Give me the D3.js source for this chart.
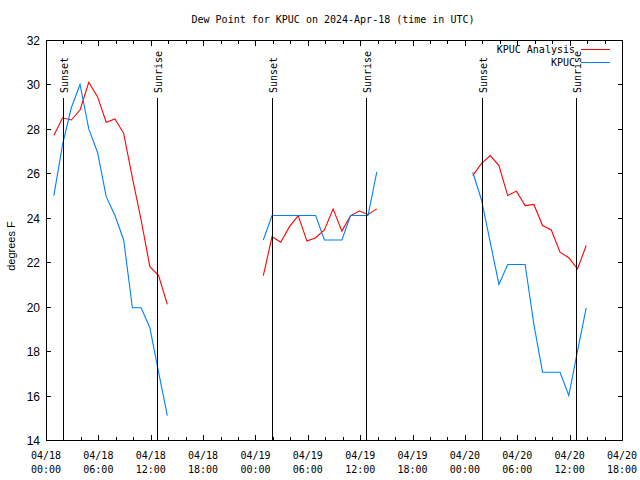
<!DOCTYPE html>
<html>
<head>
<meta charset="utf-8">
<script src="https://cdn.jsdelivr.net/npm/d3@7"></script>
<style>
  html, body { margin: 0; padding: 0; background: #fff; }
  svg { display: block; }
  text { font-family: "DejaVu Sans Mono", "Liberation Mono", monospace; fill: #000; }
</style>
</head>
<body>
<svg id="chart" width="640" height="480"></svg>
<script>
// ---- data (hours after 2024-04-18 00:00 UTC; observations at hh:54) ----
const obsHours = [0.9, 1.9, 2.9, 3.9, 4.9, 5.9, 6.9, 7.9, 8.9, 9.9, 10.9, 11.9, 12.9, 13.9,
                  24.9, 25.9, 26.9, 27.9, 28.9, 29.9, 30.9, 31.9, 32.9, 33.9, 34.9, 35.9, 36.9, 37.9,
                  48.9, 49.9, 50.9, 51.9, 52.9, 53.9, 54.9, 55.9, 56.9, 57.9, 58.9, 59.9, 60.9, 61.9];
const analysisValues = [27.7, 28.5, 28.4, 28.85, 30.1, 29.45, 28.3, 28.45, 27.8, 25.8, 23.9, 21.8, 21.4, 20.1,
                        21.4, 23.15, 22.9, 23.6, 24.1, 22.95, 23.1, 23.45, 24.4, 23.4, 24.1, 24.3, 24.15, 24.4,
                        25.9, 26.45, 26.8, 26.35, 25.0, 25.2, 24.55, 24.6, 23.65, 23.45, 22.45, 22.2, 21.7, 22.75];
const obsValues = [25.0, 27.3, 28.95, 30.0, 28.0, 26.95, 24.95, 24.1, 23.0, 19.95, 19.95, 19.05, 17.05, 15.1,
                   23.0, 24.1, 24.1, 24.1, 24.1, 24.1, 24.1, 23.0, 23.0, 23.0, 24.1, 24.1, 24.1, 26.05,
                   26.05, 24.8, 22.9, 21.0, 21.9, 21.9, 21.9, 19.2, 17.05, 17.05, 17.05, 16.0, 18.0, 19.95];
const sunLabels = ["Sunset", "Sunrise", "Sunset", "Sunrise", "Sunset", "Sunrise"];
const sunHours = [2.02, 12.8, 25.97, 36.75, 50.03, 60.73];
const yTickValues = [14, 16, 18, 20, 22, 24, 26, 28, 30, 32];
const seriesNames = ["KPUC Analysis", "KPUC"];
const seriesColors = ["#ff0000", "#0080ff"];
const titleText = "Dew Point for KPUC on 2024-Apr-18 (time in UTC)";
const yLabelText = "degrees F";

// ---- layout ----
const base = Date.UTC(2024, 3, 18, 0, 0);
const toDate = h => new Date(base + h * 3600 * 1000);
const L = 46, R = 622, T = 40, B = 440;

const svg = d3.select("#chart");
const x = d3.scaleUtc().domain([toDate(0), toDate(66)]).range([L, R]);
const y = d3.scaleLinear().domain([14, 32]).range([B, T]);

// title
svg.append("text").attr("x", 333).attr("y", 23).attr("text-anchor", "middle")
  .attr("font-size", 10).text(titleText);

// y label
svg.append("text").attr("transform", "translate(15,246) rotate(-90)")
  .attr("text-anchor", "middle").attr("font-size", 11)
  .style("font-family", "'Liberation Sans', Arial, sans-serif").text(yLabelText);

// data lines
const series = [analysisValues, obsValues];
series.forEach((vals, si) => {
  const pts = obsHours.map((h, i) => ({ h, v: vals[i] }));
  const segs = [];
  pts.forEach((p, i) => {
    if (i === 0 || p.h - pts[i - 1].h > 1.5) segs.push([]);
    segs[segs.length - 1].push(p);
  });
  const line = d3.line().x(d => x(toDate(d.h))).y(d => y(d.v));
  segs.forEach(seg => {
    svg.append("path").attr("d", line(seg)).attr("fill", "none")
      .attr("stroke", seriesColors[si]).attr("stroke-width", 1.1);
  });
});

// sunrise / sunset lines
sunHours.forEach((h, i) => {
  const xx = Math.floor(x(toDate(h))) + 0.5;
  svg.append("line").attr("x1", xx).attr("x2", xx).attr("y1", 98).attr("y2", B)
    .attr("stroke", "#000").attr("stroke-width", 1.2).attr("shape-rendering", "crispEdges");
  svg.append("text").attr("transform", `translate(${xx + 4},93) rotate(-90)`)
    .attr("font-size", 10).text(sunLabels[i]);
});

// frame
svg.append("rect").attr("x", L + 0.5).attr("y", T + 0.5).attr("width", R - L).attr("height", B - T)
  .attr("fill", "none").attr("stroke", "#000").attr("stroke-width", 1).attr("shape-rendering", "crispEdges");

// x ticks (major 6h, minor 2h), mirrored on top
const major = d3.utcHour.every(6).range(toDate(0), toDate(66.01));
const minor = d3.utcHour.every(2).range(toDate(0), toDate(66.01));
const tickG = svg.append("g").attr("stroke", "#000").attr("shape-rendering", "crispEdges");
minor.forEach(d => {
  const xx = Math.round(x(d)) + 0.5;
  const len = major.some(m => +m === +d) ? 5 : 3;
  tickG.append("line").attr("x1", xx).attr("x2", xx).attr("y1", B).attr("y2", B - len);
  tickG.append("line").attr("x1", xx).attr("x2", xx).attr("y1", T + 1).attr("y2", T + 1 + len);
});
const fmtDay = d3.utcFormat("%m/%d"), fmtTime = d3.utcFormat("%H:%M");
major.forEach(d => {
  const xx = x(d);
  svg.append("text").attr("x", xx).attr("y", 459).attr("text-anchor", "middle")
    .attr("font-size", 10).text(fmtDay(d));
  svg.append("text").attr("x", xx).attr("y", 473).attr("text-anchor", "middle")
    .attr("font-size", 10).text(fmtTime(d));
});

// y ticks, mirrored on right
yTickValues.forEach(v => {
  const yy = Math.round(y(v)) + 0.5;
  tickG.append("line").attr("x1", L).attr("x2", L + 5).attr("y1", yy).attr("y2", yy);
  tickG.append("line").attr("x1", R - 4).attr("x2", R + 1).attr("y1", yy).attr("y2", yy);
  svg.append("text").attr("x", 40).attr("y", yy + 4).attr("text-anchor", "end")
    .attr("font-size", 12).style("font-family", "'Liberation Sans', Arial, sans-serif").text(v);
});

// legend
seriesNames.forEach((name, i) => {
  const ly = 49 + i * 12.5;
  svg.append("text").attr("x", 575).attr("y", ly + 4).attr("text-anchor", "end")
    .attr("font-size", 10).text(name);
  svg.append("line").attr("x1", 581).attr("x2", 610).attr("y1", ly + 0.5).attr("y2", ly + 0.5)
    .attr("stroke", seriesColors[i]).attr("stroke-width", 1).attr("shape-rendering", "crispEdges");
});
</script>
</body>
</html>
